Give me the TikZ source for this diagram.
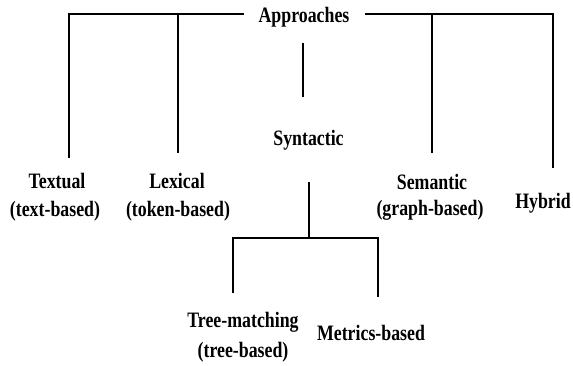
\documentclass[tikz,border=0pt]{standalone}
\usepackage{fontspec}
\newfontfamily\labfont[FakeStretch=0.81]{Liberation Serif}
\begin{document}
\begin{tikzpicture}[x=1pt,y=-1pt,
  lab/.style={font=\labfont\bfseries\fontsize{22}{22}\selectfont, inner sep=0pt, anchor=base},
  conn/.style={draw=black, line width=1.9pt, line join=miter}]
\useasboundingbox (0,0) rectangle (573,365);
% text nodes
\node[lab] (appr) at (304,22) {Approaches};
\node[lab] (syn) at (308.5,145) {Syntactic};
\node[lab] (textual) at (57,188) {Textual};
\node[lab] (textualb) at (55,216) {(text-based)};
\node[lab] (lexical) at (177,188) {Lexical};
\node[lab] (lexicalb) at (178,216) {(token-based)};
\node[lab] (semantic) at (432,189) {Semantic};
\node[lab] (semanticb) at (430,215) {(graph-based)};
\node[lab] (hybrid) at (543,208) {Hybrid};
\node[lab] (tree) at (243,327) {Tree-matching};
\node[lab] (treeb) at (243,357) {(tree-based)};
\node[lab] (metrics) at (371,340) {Metrics-based};
% junction coordinates
\coordinate (aL) at (244,14);
\coordinate (aR) at (365,14);
\coordinate (eText) at (69,158);
\coordinate (jLex) at (178,14);
\coordinate (eLex) at (178,153);
\coordinate (jSem) at (432,14);
\coordinate (eSem) at (432,153);
\coordinate (eHyb) at (553,168);
\coordinate (sTop) at (303,43);
\coordinate (sBot) at (303,97);
\coordinate (synTop) at (309,182);
\coordinate (synJ) at (309,238);
\coordinate (eTree) at (233,293);
\coordinate (eMet) at (378,297);
% connectors
\draw[conn] (aL) -| (eText);
\draw[conn] (jLex) -- (eLex);
\draw[conn] (aR) -| (eHyb);
\draw[conn] (jSem) -- (eSem);
\draw[conn] (sTop) -- (sBot);
\draw[conn] (synTop) -- (synJ);
\draw[conn] (eTree) |- (synJ) -| (eMet);
\end{tikzpicture}
\end{document}
